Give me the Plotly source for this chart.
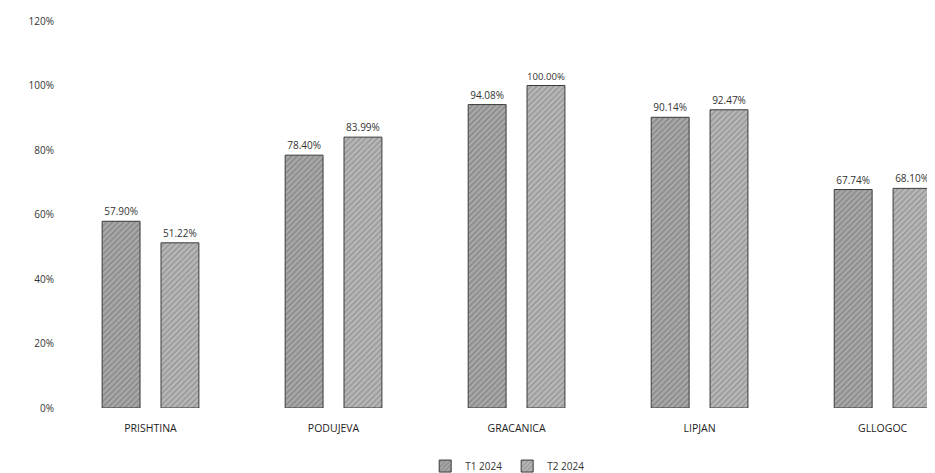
import plotly.graph_objects as go

categories = ["PRISHTINA", "PODUJEVA", "GRACANICA", "LIPJAN", "GLLOGOC"]
t1_2024 = [57.90, 78.40, 94.08, 90.14, 67.74]
t2_2024 = [51.22, 83.99, 100.00, 92.47, 68.10]
series_names = ["T1 2024", "T2 2024"]
y_ticks = [0, 20, 40, 60, 80, 100, 120]

font_family = "Open Sans, Liberation Sans, sans-serif"

fig = go.Figure()
for name, vals, fill, fg in [
    (series_names[0], t1_2024, "#a9a9a9", "#6a6a6a"),
    (series_names[1], t2_2024, "#b8b8b8", "#777777"),
]:
    fig.add_trace(go.Bar(
        name=name,
        x=categories,
        y=vals,
        text=[f"{v:.2f}%" for v in vals],
        textposition="outside",
        textfont=dict(size=10, color="#333333", family=font_family),
        cliponaxis=False,
        marker=dict(
            color=fill,
            line=dict(color="#3a3a3a", width=1),
            pattern=dict(shape="/", fgcolor=fg, bgcolor=fill, size=4, solidity=0.4),
        ),
    ))

fig.update_layout(
    width=935,
    height=473,
    margin=dict(l=51, r=0, t=13, b=70),
    paper_bgcolor="white",
    plot_bgcolor="white",
    barmode="group",
    bargap=0.357,
    bargroupgap=0.356,
    font=dict(family=font_family, size=10, color="#333333"),
    showlegend=True,
    legend=dict(
        orientation="h",
        x=0.507,
        xanchor="center",
        y=-0.15,
        yanchor="middle",
        font=dict(size=10, color="#333333"),
        itemwidth=30,
        traceorder="normal",
    ),
    xaxis=dict(
        type="category",
        range=[-0.5, 4.33],
        showgrid=False,
        showline=False,
        zeroline=False,
        ticks="",
        ticklabelstandoff=12,
        tickfont=dict(size=10.5, color="#222222"),
    ),
    yaxis=dict(
        range=[0, 120],
        tickvals=y_ticks,
        ticktext=[f"{v}%" for v in y_ticks],
        showgrid=False,
        showline=False,
        zeroline=False,
        ticks="",
        ticklabelstandoff=4,
        tickfont=dict(size=10, color="#333333"),
    ),
)

fig.write_html("out.html")
